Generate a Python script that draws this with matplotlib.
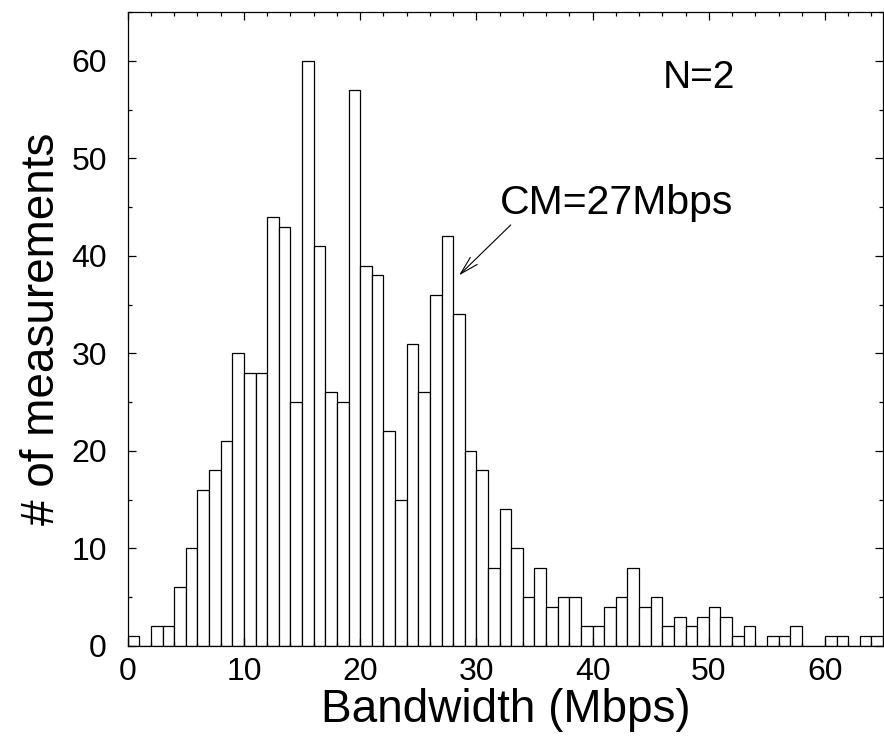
# Histograma de mediciones de ancho de banda
import matplotlib.pyplot as plt
from matplotlib.ticker import MultipleLocator

plt.rcParams['font.family'] = ['Liberation Sans', 'DejaVu Sans']

# Bordes izquierdos de los bins (1 Mbps de ancho)
bin_left = list(range(0, 65))
conteos = [1, 0, 2, 2, 6, 10, 16, 18, 21, 30,
           28, 28, 44, 43, 25, 60, 41, 26, 25, 57,
           39, 38, 22, 15, 31, 26, 36, 42, 34, 20,
           18, 8, 14, 10, 5, 8, 4, 5, 5, 2,
           2, 4, 5, 8, 4, 5, 2, 3, 2, 3,
           4, 3, 1, 2, 0, 1, 1, 2, 0, 0,
           1, 1, 0, 1, 1]

x_ticks = [0, 10, 20, 30, 40, 50, 60]
y_ticks = [0, 10, 20, 30, 40, 50, 60]

fig = plt.figure(figsize=(8.84, 7.36), dpi=100)
ax = fig.add_axes([0.1445, 0.1223, 0.8545, 0.8614])

ax.bar(bin_left, conteos, width=1, align='edge', facecolor='white',
       edgecolor='black', linewidth=0.9)

ax.set_xlim(0, 65)
ax.set_ylim(0, 65)
ax.set_xticks(x_ticks)
ax.set_yticks(y_ticks)
ax.xaxis.set_minor_locator(MultipleLocator(2))
ax.yaxis.set_minor_locator(MultipleLocator(5))
ax.tick_params(which='both', direction='in', top=True, right=True, width=0.9)
ax.tick_params(which='major', length=6, labelsize=23)
ax.tick_params(which='minor', length=3)
ax.tick_params(axis='x', which='major', pad=8)
ax.tick_params(axis='y', which='major', pad=15)
for s in ax.spines.values():
    s.set_linewidth(0.9)

ax.set_xlabel('Bandwidth (Mbps)', fontsize=33, labelpad=1)
ax.set_ylabel('# of measurements', fontsize=33, labelpad=5)

ax.text(46, 58.2, 'N=2', fontsize=28, va='center', ha='left')
ax.annotate('CM=27Mbps', xy=(28.5, 38), xytext=(32, 45.4), fontsize=29.5,
            va='center', ha='left',
            arrowprops=dict(arrowstyle='->, head_length=0.45, head_width=0.12',
                            color='black', lw=0.8,
                            shrinkA=0, shrinkB=0,
                            relpos=(0.06, 0.0)))

fig.savefig('out.png', dpi=100)
